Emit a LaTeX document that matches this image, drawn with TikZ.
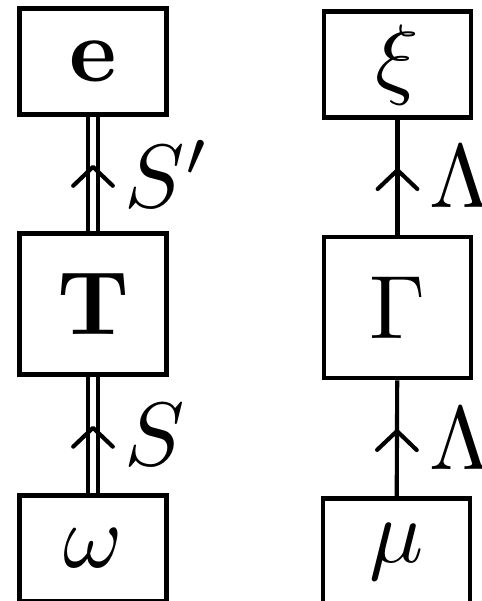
\documentclass[tikz,border=0pt]{standalone}
\usetikzlibrary{arrows.meta,decorations.markings}
\begin{document}
\begin{tikzpicture}[x=0.11111pt,y=-0.11111pt,
  box/.style={draw,line width=0.48pt,inner sep=0pt,minimum width=16.3pt},
  smallbox/.style={box,minimum height=11.8pt},
  tallbox/.style={box,minimum height=15.7pt},
  link/.style={line width=0.46pt},
  dbl/.style={double,line width=0.46pt,double distance=0.7pt},
  midarr/.style={postaction={decorate},decoration={markings,
    mark=at position 0.58 with {\arrow{Straight Barb[length=2.1pt,width=4.4pt,round,line width=0.46pt]}}}}]
\useasboundingbox (0,0) rectangle (481,601);
\clip (0,0) rectangle (481,601);
\node[smallbox] (e)  at (93,61.5)    {$\mathbf{e}$};
\node[tallbox]  (T)  at (93,304)     {$\mathbf{T}$};
\node[smallbox] (w)  at (93,548.5)   {$\omega$};
\node[smallbox] (xi) at (397.5,64.5) {$\xi$};
\node[tallbox]  (G)  at (397.5,307.5){$\Gamma$};
\node[smallbox] (mu) at (396.5,551.5){$\mu$};
\draw[dbl] (T) -- (e);
\path[midarr] (T) -- node[right] {$S'$} (e);
\draw[dbl] (w) -- (T);
\path[midarr] (w) -- node[right] {$S$} (T);
\draw[link,midarr] (G) -- node[right] {$\Lambda$} (xi);
\draw[link,midarr] (mu) -- node[right] {$\Lambda$} (G);
\end{tikzpicture}
\end{document}
